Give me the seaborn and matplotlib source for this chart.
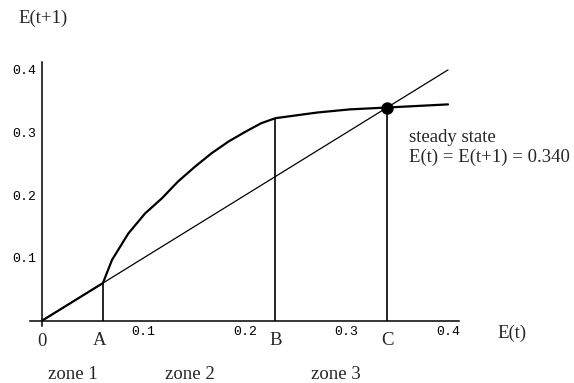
import matplotlib
matplotlib.use("Agg")
import matplotlib.pyplot as plt
from matplotlib.ticker import FixedLocator
import pandas as pd
import seaborn as sns

# Map E(t) -> E(t+1): follows the diagonal in zone 1, rises steeply in zone 2,
# then levels off in zone 3.
curve_x = [0.0, 0.060, 0.069, 0.085, 0.1015, 0.118, 0.134, 0.151, 0.167,
           0.184, 0.200, 0.216, 0.230, 0.271, 0.303, 0.340, 0.400]
curve_y = [0.0, 0.060, 0.097, 0.139, 0.171, 0.195, 0.222, 0.246, 0.267,
           0.286, 0.301, 0.315, 0.323, 0.332, 0.337, 0.340, 0.345]

# 45-degree line E(t+1) = E(t)
diag_x = [0.0, 0.40]
diag_y = [0.0, 0.40]

# Zone boundaries and the steady state
marker_names = ["A", "B", "C"]
marker_x = [0.060, 0.230, 0.340]
marker_y = [0.060, 0.323, 0.340]
steady_value = 0.340

zone_names = ["zone 1", "zone 2", "zone 3"]
zone_x = [0.030, 0.146, 0.290]

tick_major = [0.1, 0.2, 0.3, 0.4]
tick_labels = ["0.1", "0.2", "0.3", "0.4"]
tick_minor = [0.02, 0.04, 0.06, 0.08, 0.12, 0.14, 0.16, 0.18,
              0.22, 0.24, 0.26, 0.28, 0.32, 0.34, 0.36, 0.38]

sns.set_style("white")
serif = ["Liberation Serif", "DejaVu Serif"]
mono = ["Liberation Mono", "DejaVu Sans Mono"]
TXT = 13.5

W, H = 574, 383
fig = plt.figure(figsize=(W / 100, H / 100), dpi=100)
fig.patch.set_facecolor("white")

# axes: x from -0.012 to 0.411, y from -0.008 to 0.412
x0, x1 = -0.012, 0.411
y0, y1 = -0.008, 0.412
px_x, px_y = 1015.0, 627.0
left_px = 42 + x0 * px_x
bottom_px = 320.7 - y0 * px_y
ax = fig.add_axes([left_px / W, (H - bottom_px) / H,
                   (x1 - x0) * px_x / W, (y1 - y0) * px_y / H])
ax.set_xlim(x0, x1)
ax.set_ylim(y0, y1)
ax.set_facecolor("white")

curve_df = pd.DataFrame({"E(t)": curve_x, "E(t+1)": curve_y})
diag_df = pd.DataFrame({"E(t)": diag_x, "E(t+1)": diag_y})

sns.lineplot(data=diag_df, x="E(t)", y="E(t+1)", ax=ax, color="black",
             lw=0.9, sort=False)
sns.lineplot(data=curve_df, x="E(t)", y="E(t+1)", ax=ax, color="black",
             lw=1.6, sort=False)
ax.vlines(marker_x, 0, marker_y, color="black", lw=1.2)
sns.scatterplot(x=[marker_x[2]], y=[marker_y[2]], ax=ax, color="black",
                s=80, edgecolor="black", linewidth=0, zorder=5)

# Axes crossing at the origin, Mathematica-style
for side in ("top", "right"):
    ax.spines[side].set_visible(False)
ax.spines["left"].set_position(("data", 0))
ax.spines["bottom"].set_position(("data", 0))
for side in ("left", "bottom"):
    ax.spines[side].set_linewidth(1.1)
    ax.spines[side].set_color("black")

ax.xaxis.set_major_locator(FixedLocator(tick_major))
ax.yaxis.set_major_locator(FixedLocator(tick_major))
ax.xaxis.set_minor_locator(FixedLocator(tick_minor))
ax.yaxis.set_minor_locator(FixedLocator(tick_minor))
ax.set_xticklabels(tick_labels, fontfamily=mono, fontsize=9.5)
ax.set_yticklabels(tick_labels, fontfamily=mono, fontsize=9.5)
ax.tick_params(which="major", direction="in", length=3.0, width=1.0,
               color="black", labelcolor="black")
ax.tick_params(which="minor", direction="in", length=2.2, width=0.8,
               color="black")
ax.tick_params(axis="x", which="major", pad=4)
ax.tick_params(axis="y", which="major", pad=4)
ax.set_xlabel("")
ax.set_ylabel("")
if ax.get_legend() is not None:
    ax.get_legend().remove()


def fx(px):
    return px / W


def fy(py):
    return 1 - py / H


# Axis titles
fig.text(fx(18), fy(18), "E(t+1)", fontfamily=serif, fontsize=TXT,
         ha="left", va="center")
fig.text(fx(497), fy(333), "E(t)", fontfamily=serif, fontsize=TXT,
         ha="left", va="center")

# Origin and zone-boundary letters under the axis
ax.annotate("0", xy=(0, 0), xytext=(0, -21), textcoords="offset pixels",
            fontfamily=serif, fontsize=TXT, ha="center", va="center")
for name, xv in zip(marker_names, marker_x):
    ax.annotate(name, xy=(xv, 0), xytext=(-3 if name == "A" else 0, -20),
                textcoords="offset pixels", fontfamily=serif, fontsize=TXT,
                ha="center", va="center")

# Zone names
for name, xv in zip(zone_names, zone_x):
    ax.annotate(name, xy=(xv, 0), xytext=(0, -54),
                textcoords="offset pixels", fontfamily=serif, fontsize=TXT,
                ha="center", va="center")

# Steady-state note
fig.text(fx(409), fy(137), "steady state", fontfamily=serif, fontsize=TXT,
         ha="left", va="center")
fig.text(fx(409), fy(157), f"E(t) = E(t+1) = {steady_value:.3f}",
         fontfamily=serif, fontsize=TXT, ha="left", va="center")

fig.savefig("out.png", dpi=100, facecolor="white")
